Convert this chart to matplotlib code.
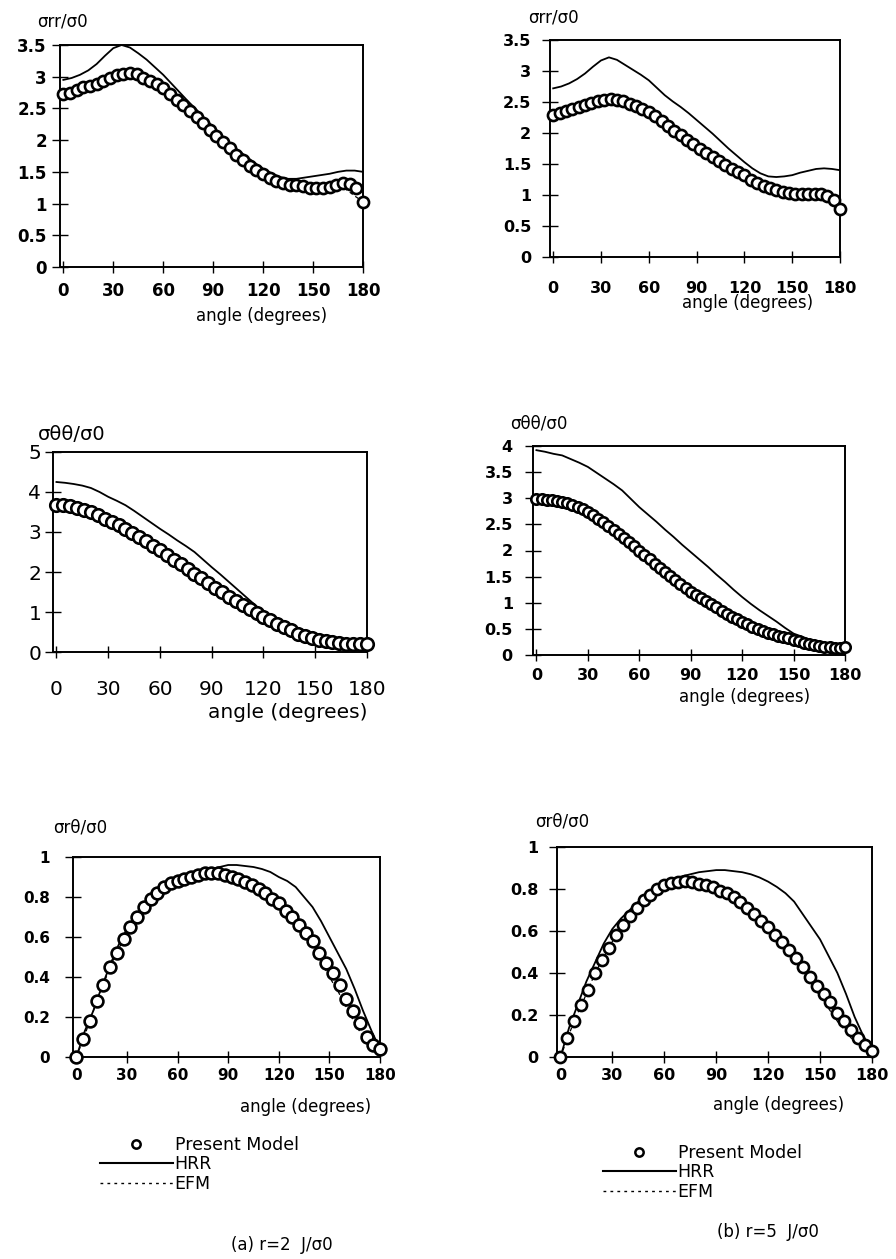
import numpy as np
import matplotlib
matplotlib.use("Agg")
import matplotlib.pyplot as plt
from matplotlib.lines import Line2D
from matplotlib.ticker import FuncFormatter

plt.rcParams['font.family'] = ['DejaVu Sans']

# sample angles (degrees) of the model points and of the reference curves
ang_pts = np.arange(0, 181, 4)
ang_pts_dense = np.arange(0, 181, 3)
ang_line = np.arange(0, 181, 5)

# ---- sigma_rr / sigma_0 ----
srr_a_model = [2.72, 2.75, 2.79, 2.83, 2.86, 2.89, 2.93, 2.98, 3.02, 3.05,
               3.06, 3.04, 2.98, 2.93, 2.88, 2.82, 2.73, 2.64, 2.55, 2.46,
               2.37, 2.27, 2.16, 2.06, 1.97, 1.88, 1.77, 1.68, 1.60, 1.53,
               1.47, 1.41, 1.36, 1.32, 1.30, 1.29, 1.27, 1.25, 1.24, 1.24,
               1.26, 1.30, 1.33, 1.31, 1.24, 1.02]
srr_a_hrr = [2.95, 2.98, 3.03, 3.10, 3.20, 3.33, 3.45, 3.50, 3.46, 3.37,
             3.27, 3.15, 3.03, 2.89, 2.75, 2.61, 2.48, 2.34, 2.21, 2.08,
             1.95, 1.84, 1.74, 1.64, 1.55, 1.48, 1.42, 1.39, 1.39, 1.41,
             1.43, 1.45, 1.47, 1.50, 1.52, 1.52, 1.50]
srr_a_efm = [2.72, 2.76, 2.81, 2.85, 2.89, 2.94, 3.00, 3.04, 3.06, 3.03,
             2.96, 2.89, 2.82, 2.71, 2.60, 2.48, 2.37, 2.24, 2.11, 1.99,
             1.88, 1.75, 1.64, 1.55, 1.47, 1.40, 1.34, 1.31, 1.29, 1.27,
             1.24, 1.24, 1.26, 1.28, 1.22, 1.12, 1.03]

srr_b_model = [2.29, 2.32, 2.35, 2.38, 2.42, 2.45, 2.48, 2.51, 2.53, 2.55,
               2.54, 2.51, 2.47, 2.43, 2.39, 2.34, 2.28, 2.19, 2.11, 2.04,
               1.97, 1.89, 1.82, 1.75, 1.68, 1.62, 1.55, 1.48, 1.42, 1.37,
               1.32, 1.25, 1.19, 1.14, 1.11, 1.08, 1.05, 1.03, 1.02, 1.02,
               1.02, 1.02, 1.01, 0.98, 0.92, 0.78]
srr_b_hrr = [2.72, 2.75, 2.80, 2.87, 2.96, 3.07, 3.17, 3.22, 3.18, 3.10,
             3.02, 2.94, 2.85, 2.73, 2.61, 2.51, 2.42, 2.32, 2.21, 2.10,
             1.99, 1.87, 1.75, 1.64, 1.53, 1.43, 1.35, 1.30, 1.29, 1.30,
             1.32, 1.36, 1.39, 1.42, 1.43, 1.42, 1.40]
srr_b_efm = [2.29, 2.33, 2.37, 2.41, 2.45, 2.49, 2.52, 2.55, 2.54, 2.50,
             2.45, 2.40, 2.34, 2.26, 2.15, 2.05, 1.97, 1.87, 1.78, 1.70,
             1.62, 1.53, 1.45, 1.38, 1.32, 1.24, 1.16, 1.12, 1.08, 1.05,
             1.02, 1.02, 1.02, 1.00, 0.96, 0.89, 0.80]

# ---- sigma_thetatheta / sigma_0 ----
stt_a_model = [3.67, 3.67, 3.65, 3.60, 3.55, 3.50, 3.42, 3.33, 3.25, 3.17,
               3.08, 2.98, 2.88, 2.77, 2.66, 2.54, 2.42, 2.31, 2.19, 2.08,
               1.96, 1.84, 1.73, 1.61, 1.49, 1.37, 1.27, 1.17, 1.07, 0.97,
               0.87, 0.79, 0.71, 0.62, 0.54, 0.46, 0.40, 0.35, 0.31, 0.28,
               0.25, 0.22, 0.20, 0.19, 0.19, 0.21]
stt_a_hrr = [4.25, 4.23, 4.20, 4.16, 4.10, 4.00, 3.88, 3.78, 3.67, 3.53,
             3.38, 3.23, 3.08, 2.94, 2.79, 2.65, 2.50, 2.31, 2.12, 1.94,
             1.75, 1.56, 1.37, 1.18, 1.00, 0.87, 0.75, 0.60, 0.46, 0.37,
             0.29, 0.22, 0.17, 0.14, 0.12, 0.13, 0.17]
stt_a_efm = [3.67, 3.67, 3.63, 3.56, 3.50, 3.40, 3.29, 3.19, 3.08, 2.96,
             2.83, 2.69, 2.54, 2.40, 2.25, 2.11, 1.96, 1.81, 1.67, 1.52,
             1.37, 1.25, 1.12, 1.00, 0.87, 0.77, 0.67, 0.56, 0.46, 0.39,
             0.33, 0.29, 0.25, 0.22, 0.19, 0.19, 0.20]

stt_b_model = [2.98, 2.98, 2.97, 2.96, 2.95, 2.93, 2.90, 2.87, 2.83, 2.79,
               2.74, 2.68, 2.61, 2.55, 2.47, 2.39, 2.31, 2.23, 2.16, 2.08,
               2.00, 1.92, 1.83, 1.75, 1.67, 1.59, 1.51, 1.43, 1.36, 1.28,
               1.21, 1.15, 1.09, 1.04, 0.98, 0.91, 0.84, 0.78, 0.73, 0.68,
               0.64, 0.59, 0.54, 0.50, 0.46, 0.43, 0.40, 0.37, 0.35, 0.32,
               0.29, 0.26, 0.23, 0.21, 0.19, 0.17, 0.16, 0.15, 0.14, 0.13,
               0.15]
stt_b_hrr = [3.92, 3.89, 3.85, 3.82, 3.75, 3.68, 3.60, 3.49, 3.38, 3.27,
             3.15, 2.99, 2.83, 2.69, 2.55, 2.40, 2.26, 2.11, 1.97, 1.83,
             1.69, 1.54, 1.40, 1.25, 1.11, 0.98, 0.86, 0.75, 0.64, 0.52,
             0.41, 0.35, 0.29, 0.24, 0.19, 0.17, 0.16]
stt_b_efm = [2.98, 2.97, 2.96, 2.93, 2.88, 2.82, 2.74, 2.63, 2.52, 2.39,
             2.26, 2.13, 2.00, 1.86, 1.72, 1.59, 1.46, 1.33, 1.21, 1.11,
             1.02, 0.91, 0.80, 0.72, 0.64, 0.56, 0.48, 0.43, 0.38, 0.34,
             0.29, 0.25, 0.20, 0.17, 0.15, 0.13, 0.14]

# ---- sigma_rtheta / sigma_0 ----
srt_a_model = [0.00, 0.09, 0.18, 0.28, 0.36, 0.45, 0.52, 0.59, 0.65, 0.70,
               0.75, 0.79, 0.82, 0.85, 0.87, 0.88, 0.89, 0.90, 0.91, 0.92,
               0.92, 0.92, 0.91, 0.90, 0.89, 0.875, 0.86, 0.84, 0.82, 0.79,
               0.77, 0.73, 0.70, 0.66, 0.62, 0.58, 0.52, 0.47, 0.42, 0.36,
               0.29, 0.23, 0.17, 0.10, 0.06, 0.04]
srt_a_hrr = [0.00, 0.13, 0.23, 0.35, 0.46, 0.56, 0.64, 0.70, 0.76, 0.80,
             0.84, 0.87, 0.89, 0.91, 0.92, 0.93, 0.94, 0.95, 0.96, 0.96,
             0.955, 0.95, 0.94, 0.925, 0.90, 0.88, 0.85, 0.80, 0.75, 0.68,
             0.60, 0.52, 0.44, 0.34, 0.23, 0.13, 0.04]
srt_a_efm = [0.00, 0.11, 0.23, 0.34, 0.45, 0.54, 0.62, 0.69, 0.75, 0.80,
             0.84, 0.87, 0.88, 0.89, 0.91, 0.92, 0.92, 0.92, 0.91, 0.89,
             0.875, 0.855, 0.83, 0.80, 0.77, 0.72, 0.68, 0.62, 0.56, 0.48,
             0.40, 0.33, 0.25, 0.17, 0.10, 0.05, 0.03]

srt_b_model = [0.00, 0.09, 0.17, 0.25, 0.32, 0.40, 0.46, 0.52, 0.58, 0.63,
               0.67, 0.71, 0.75, 0.77, 0.80, 0.82, 0.83, 0.835, 0.84, 0.835,
               0.825, 0.82, 0.81, 0.79, 0.78, 0.76, 0.74, 0.71, 0.68, 0.65,
               0.62, 0.58, 0.55, 0.51, 0.47, 0.43, 0.38, 0.34, 0.30, 0.26,
               0.21, 0.17, 0.13, 0.09, 0.055, 0.03]
srt_b_hrr = [0.00, 0.14, 0.25, 0.36, 0.45, 0.54, 0.61, 0.66, 0.70, 0.74,
             0.78, 0.81, 0.83, 0.85, 0.86, 0.87, 0.88, 0.885, 0.89, 0.89,
             0.885, 0.88, 0.87, 0.855, 0.835, 0.81, 0.78, 0.74, 0.68, 0.62,
             0.56, 0.48, 0.40, 0.30, 0.19, 0.10, 0.03]
srt_b_efm = [0.00, 0.11, 0.21, 0.30, 0.40, 0.475, 0.55, 0.62, 0.67, 0.72,
             0.76, 0.79, 0.82, 0.83, 0.84, 0.835, 0.825, 0.815, 0.80, 0.785,
             0.78, 0.75, 0.71, 0.67, 0.62, 0.57, 0.52, 0.46, 0.41, 0.35,
             0.29, 0.23, 0.17, 0.12, 0.07, 0.04, 0.02]

W, H = 896, 1259
fig = plt.figure(figsize=(W / 100, H / 100), dpi=100)


def fx(x):
    return x / W


def fy(y):
    return 1 - y / H


def panel(box, x_pts, model, hrr, efm, ymax, ystep, ylab, ylab_xy, xlab_xy,
          tick_fs=11, tick_bold=True, xpad=6, ypad=6, ms=8, lab_fs=12,
          ylab_fs=12):
    left, top, right, bottom = box
    ax = fig.add_axes([fx(left), fy(bottom), fx(right - left), (bottom - top) / H])
    ax.plot(ang_line, efm, color='black', lw=0.9, ls=(0, (3, 2.5)))
    ax.plot(ang_line, hrr, color='black', lw=1.3)
    ax.plot(x_pts, model, ls='none', marker='o', ms=ms, mfc='white',
            mec='black', mew=1.9, clip_on=False, zorder=3)
    ax.set_xlim(-2, 180)
    ax.set_ylim(0, ymax)
    ax.set_xticks(np.arange(0, 181, 30))
    ax.set_yticks(np.arange(0, ymax + 1e-9, ystep))
    ax.yaxis.set_major_formatter(FuncFormatter(lambda v, p: f'{v:g}'))
    ax.tick_params(axis='x', direction='inout', length=8, width=1, pad=xpad,
                   labelsize=tick_fs)
    ax.tick_params(axis='y', direction='inout', length=11, width=1, pad=ypad,
                   labelsize=tick_fs)
    for lbl in ax.get_xticklabels() + ax.get_yticklabels():
        lbl.set_fontweight('bold' if tick_bold else 'normal')
    for s in ax.spines.values():
        s.set_linewidth(1.4)
    fig.text(fx(ylab_xy[0]), fy(ylab_xy[1]), ylab, fontsize=ylab_fs,
             ha='left', va='center')
    fig.text(fx(xlab_xy[0]), fy(xlab_xy[1]), 'angle (degrees)', fontsize=lab_fs,
             ha='center', va='center')
    return ax


# row 1: sigma_rr
panel((60, 45, 363, 267), ang_pts, srr_a_model, srr_a_hrr, srr_a_efm,
      3.5, 0.5, 'σrr/σ0', (37, 22), (262, 316), tick_fs=12, xpad=7, ypad=4)
panel((550, 40, 840, 257), ang_pts, srr_b_model, srr_b_hrr, srr_b_efm,
      3.5, 0.5, 'σrr/σ0', (528, 17), (748, 303), tick_fs=11.5, xpad=13, ypad=8)

# row 2: sigma_thetatheta
panel((53, 452, 367, 652), ang_pts, stt_a_model, stt_a_hrr, stt_a_efm,
      5, 1, 'σθθ/σ0', (38, 435), (288, 713), tick_fs=14.5, tick_bold=False,
      xpad=16, ypad=3, ms=9, lab_fs=14.5, ylab_fs=14)
panel((533, 446, 845, 655), ang_pts_dense, stt_b_model, stt_b_hrr, stt_b_efm,
      4, 0.5, 'σθθ/σ0', (510, 423), (745, 697), tick_fs=11.5, xpad=5, ypad=9,
      ms=7.5)

# row 3: sigma_rtheta
panel((73, 857, 380, 1057), ang_pts, srt_a_model, srt_a_hrr, srt_a_efm,
      1, 0.2, 'σrθ/σ0', (53, 828), (306, 1107), tick_fs=11, xpad=4, ypad=11,
      ms=8.5)
panel((557, 847, 872, 1057), ang_pts, srt_b_model, srt_b_hrr, srt_b_efm,
      1, 0.2, 'σrθ/σ0', (535, 822), (779, 1105), tick_fs=11.5, xpad=4, ypad=8,
      ms=8)

# legends under each column
handles = [Line2D([], [], ls='none', marker='o', ms=6, mfc='white', mec='black', mew=1.8),
           Line2D([], [], color='black', lw=1.5),
           Line2D([], [], color='black', lw=1, ls=(0, (2, 3)))]
labels = ['Present Model', 'HRR', 'EFM']
for x0, y0 in [(100, 1136), (603, 1144)]:
    fig.legend(handles, labels, loc='upper left',
               bbox_to_anchor=(fx(x0), fy(y0)), frameon=False, fontsize=12.5,
               handlelength=4.2, handletextpad=0.1, labelspacing=0.08,
               borderpad=0, borderaxespad=0, numpoints=1)

fig.text(fx(282), fy(1245), '(a) r=2  J/σ0', fontsize=12, ha='center', va='center')
fig.text(fx(768), fy(1232), '(b) r=5  J/σ0', fontsize=12, ha='center', va='center')

fig.savefig('out.png', dpi=100)
